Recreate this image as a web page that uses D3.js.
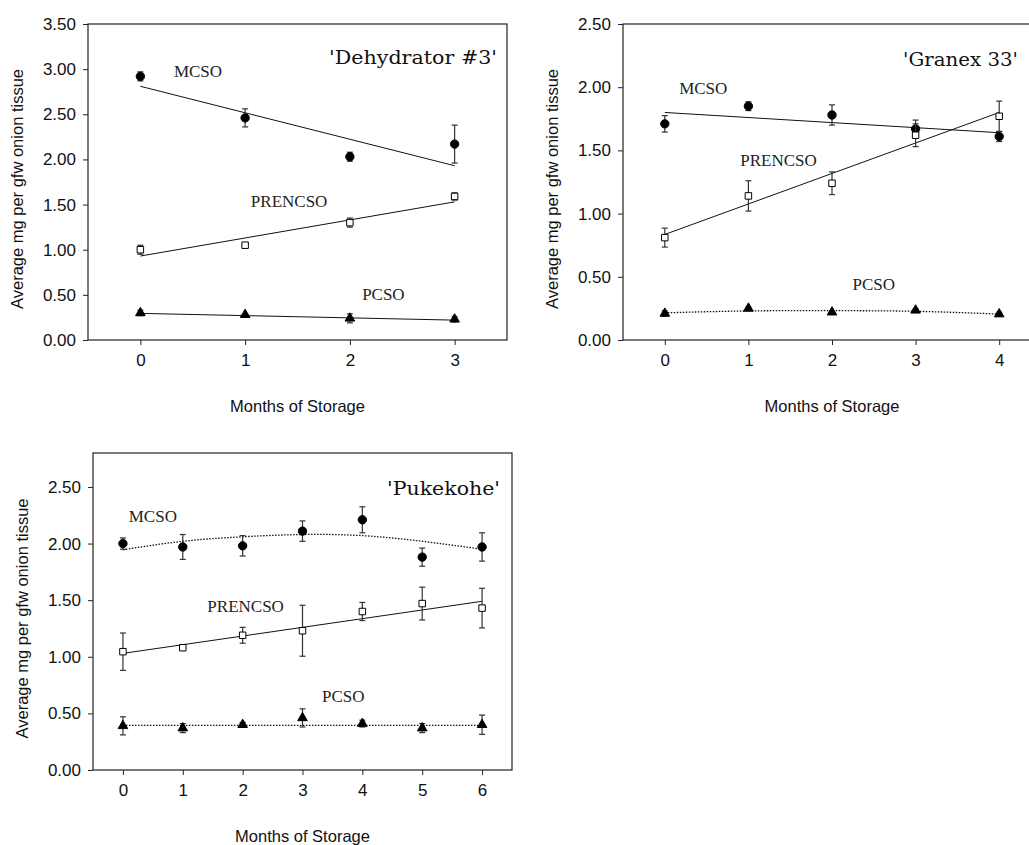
<!DOCTYPE html>
<html>
<head>
<meta charset="utf-8">
<script src="https://cdn.jsdelivr.net/npm/d3@7"></script>
<style>
  body { margin: 0; background: #fff; }
  .tick text { font-family: "Liberation Sans", Arial, sans-serif; font-size: 17px; fill: #111; }
  .tick line { stroke: #222; }
  .axtitle { font-family: "Liberation Sans", Arial, sans-serif; font-size: 16.5px; fill: #111; }
  .slabel { font-family: "Liberation Serif", "Times New Roman", serif; font-size: 17px; fill: #222; }
  .ptitle { font-family: "DejaVu Serif", serif; font-size: 19px; fill: #111; }
</style>
</head>
<body>
<div id="chart"></div>
<script>
const width = 1029;
const height = 845;

// 'Dehydrator #3'
const months1 = [0, 1, 2, 3];
const mcso1 = [2.92, 2.46, 2.03, 2.17];
const mcso1Err = [0.05, 0.10, 0.05, 0.21];
const mcso1Fit = [2.81, 1.93];
const prencso1 = [1.00, 1.05, 1.30, 1.59];
const prencso1Err = [0.05, 0.02, 0.05, 0.04];
const prencso1Fit = [0.93, 1.53];
const pcso1 = [0.30, 0.28, 0.24, 0.23];
const pcso1Err = [0.03, 0.01, 0.05, 0.03];
const pcso1Fit = [0.295, 0.22];

// 'Granex 33'
const months2 = [0, 1, 2, 3, 4];
const mcso2 = [1.71, 1.85, 1.78, 1.67, 1.61];
const mcso2Err = [0.065, 0.035, 0.08, 0.07, 0.04];
const mcso2Fit = [1.80, 1.64];
const prencso2 = [0.81, 1.14, 1.24, 1.62, 1.77];
const prencso2Err = [0.075, 0.12, 0.09, 0.09, 0.12];
const prencso2Fit = [0.835, 1.80];
const pcso2 = [0.21, 0.25, 0.22, 0.235, 0.205];
const pcso2Err = [0.02, 0.01, 0.01, 0.01, 0.015];
const pcso2Fit = [0.215, 0.23, 0.232, 0.227, 0.205];

// 'Pukekohe'
const months3 = [0, 1, 2, 3, 4, 5, 6];
const mcso3 = [2.00, 1.97, 1.98, 2.11, 2.21, 1.88, 1.97];
const mcso3Err = [0.05, 0.11, 0.09, 0.09, 0.115, 0.08, 0.125];
const mcso3Fit = [1.945, 2.02, 2.06, 2.08, 2.07, 2.02, 1.95];
const prencso3 = [1.045, 1.08, 1.19, 1.23, 1.40, 1.47, 1.43];
const prencso3Err = [0.165, 0.02, 0.07, 0.225, 0.08, 0.145, 0.175];
const prencso3Fit = [1.03, 1.49];
const pcso3 = [0.39, 0.37, 0.40, 0.46, 0.41, 0.37, 0.40];
const pcso3Err = [0.08, 0.04, 0.02, 0.08, 0.03, 0.04, 0.085];
const pcso3Fit = [0.395, 0.395];

const yTicks1 = [0, 0.5, 1, 1.5, 2, 2.5, 3, 3.5];
const yTicks2 = [0, 0.5, 1, 1.5, 2, 2.5];
const yTicks3 = [0, 0.5, 1, 1.5, 2, 2.5];

const xTitle = "Months of Storage";
const yTitle = "Average mg per gfw onion tissue";

const svg = d3.select("#chart").append("svg")
  .attr("width", width)
  .attr("height", height);

// one panel: box, axes, series, labels
function drawPanel(p) {
  const x = d3.scaleLinear().domain(p.xDomain).range([p.left, p.right]);
  const y = d3.scaleLinear().domain(p.yDomain).range([p.bottom, p.top]);
  const g = svg.append("g");

  g.append("rect")
    .attr("x", p.left).attr("y", p.top)
    .attr("width", p.right - p.left).attr("height", p.bottom - p.top)
    .attr("fill", "none").attr("stroke", "#222").attr("stroke-width", 1.2);

  const ax = g.append("g")
    .attr("transform", "translate(0," + p.bottom + ")")
    .call(d3.axisBottom(x).tickValues(p.months).tickFormat(d3.format("d"))
      .tickSize(5).tickSizeOuter(0).tickPadding(9));
  ax.select(".domain").remove();

  const ay = g.append("g")
    .attr("transform", "translate(" + p.left + ",0)")
    .call(d3.axisLeft(y).tickValues(p.yTicks).tickFormat(d3.format(".2f"))
      .tickSize(5).tickSizeOuter(0).tickPadding(7));
  ay.select(".domain").remove();

  g.append("text").attr("class", "axtitle")
    .attr("x", (p.left + p.right) / 2).attr("y", p.bottom + 72)
    .attr("text-anchor", "middle")
    .text(xTitle);

  g.append("text").attr("class", "axtitle")
    .attr("transform", "translate(" + (p.left - 65) + "," + ((p.top + p.bottom) / 2 + 7) + ") rotate(-90)")
    .attr("text-anchor", "middle")
    .text(yTitle);

  const line = d3.line().x(d => x(d[0])).y(d => y(d[1]));

  // fit lines first
  p.series.forEach(function(s) {
    const fx = s.fit.length == 2 ? [p.months[0], p.months[p.months.length - 1]] : p.months;
    const pts = s.fit.map((v, i) => [fx[i], v]);
    g.append("path")
      .attr("d", line.curve(s.fit.length == 2 ? d3.curveLinear : d3.curveNatural)(pts))
      .attr("fill", "none")
      .attr("stroke", "#111")
      .attr("stroke-width", s.dotted ? 1.3 : 1)
      .attr("stroke-dasharray", s.dotted ? "1.5,1.5" : null);
  });

  p.series.forEach(function(s) {
    const pts = s.values.map((v, i) => ({ m: p.months[i], v: v, e: s.err[i] }));
    const eb = g.append("g").attr("stroke", "#333").attr("stroke-width", 1.2);
    pts.forEach(function(d) {
      eb.append("line").attr("x1", x(d.m)).attr("x2", x(d.m))
        .attr("y1", y(d.v - d.e)).attr("y2", y(d.v + d.e));
      [d.v - d.e, d.v + d.e].forEach(function(c) {
        eb.append("line").attr("x1", x(d.m) - 3).attr("x2", x(d.m) + 3)
          .attr("y1", y(c)).attr("y2", y(c));
      });
    });

    const sym = s.marker == "circle" ? d3.symbolCircle
      : s.marker == "square" ? d3.symbolSquare : d3.symbolTriangle;
    const size = s.marker == "circle" ? 55 : s.marker == "square" ? 42 : 40;
    g.append("g").selectAll("path")
      .data(pts)
      .enter()
      .append("path")
      .attr("transform", d => "translate(" + x(d.m) + "," + y(d.v) + ")")
      .attr("d", d3.symbol().type(sym).size(size))
      .attr("fill", s.marker == "square" ? "#fff" : "#000")
      .attr("stroke", "#000")
      .attr("stroke-width", 1);

    g.append("text").attr("class", "slabel")
      .attr("x", x(s.labelAt[0])).attr("y", y(s.labelAt[1]))
      .attr("text-anchor", "middle")
      .attr("dominant-baseline", "central")
      .text(s.name);
  });

  g.append("text").attr("class", "ptitle")
    .attr("x", p.titleAt[0]).attr("y", p.titleAt[1])
    .attr("textLength", p.titleLen)
    .attr("lengthAdjust", "spacingAndGlyphs")
    .text(p.title);
}

drawPanel({
  title: "'Dehydrator #3'", titleAt: [329, 64], titleLen: 168,
  left: 88, right: 507, top: 24, bottom: 340,
  xDomain: [-0.5, 3.5], yDomain: [0, 3.5], months: months1, yTicks: yTicks1,
  series: [
    { name: "MCSO", values: mcso1, err: mcso1Err, fit: mcso1Fit, marker: "circle", labelAt: [0.55, 2.97] },
    { name: "PRENCSO", values: prencso1, err: prencso1Err, fit: prencso1Fit, marker: "square", labelAt: [1.42, 1.53] },
    { name: "PCSO", values: pcso1, err: pcso1Err, fit: pcso1Fit, marker: "triangle", labelAt: [2.32, 0.50] }
  ]
});

drawPanel({
  title: "'Granex 33'", titleAt: [903, 66], titleLen: 115,
  left: 623, right: 1041, top: 24, bottom: 340,
  xDomain: [-0.5, 4.5], yDomain: [0, 2.5], months: months2, yTicks: yTicks2,
  series: [
    { name: "MCSO", values: mcso2, err: mcso2Err, fit: mcso2Fit, marker: "circle", labelAt: [0.46, 1.99] },
    { name: "PRENCSO", values: prencso2, err: prencso2Err, fit: prencso2Fit, marker: "square", labelAt: [1.36, 1.42] },
    { name: "PCSO", values: pcso2, err: pcso2Err, fit: pcso2Fit, marker: "triangle", labelAt: [2.5, 0.44], dotted: true }
  ]
});

drawPanel({
  title: "'Pukekohe'", titleAt: [387, 495], titleLen: 113,
  left: 93, right: 512, top: 453, bottom: 770,
  xDomain: [-0.5, 6.5], yDomain: [0, 2.8], months: months3, yTicks: yTicks3,
  series: [
    { name: "MCSO", values: mcso3, err: mcso3Err, fit: mcso3Fit, marker: "circle", labelAt: [0.5, 2.24], dotted: true },
    { name: "PRENCSO", values: prencso3, err: prencso3Err, fit: prencso3Fit, marker: "square", labelAt: [2.05, 1.44] },
    { name: "PCSO", values: pcso3, err: pcso3Err, fit: pcso3Fit, marker: "triangle", labelAt: [3.68, 0.645], dotted: true }
  ]
});
</script>
</body>
</html>
